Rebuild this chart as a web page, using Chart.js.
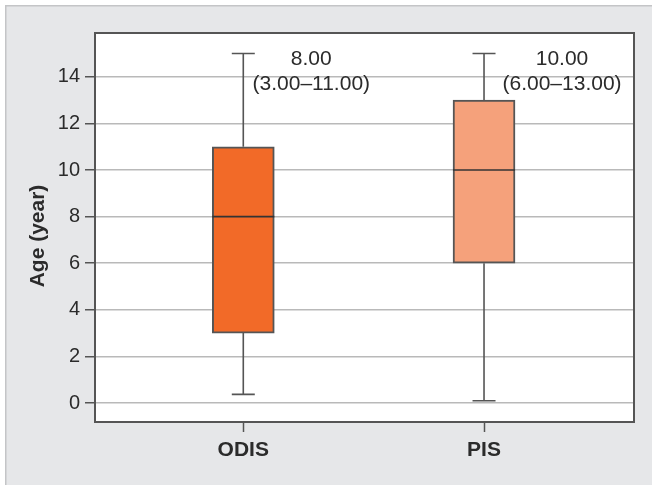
<!DOCTYPE html>
<html>
<head>
<meta charset="utf-8">
<title>Age by group</title>
<script src="https://cdn.jsdelivr.net/npm/chart.js@4.4.1/dist/chart.umd.min.js"></script>
<style>
  html, body { margin: 0; padding: 0; background: #ffffff; }
  #wrap { width: 652px; height: 485px; }
</style>
</head>
<body>
<div id="wrap"><canvas id="age-box" width="652" height="485"></canvas></div>
<script>
"use strict";
// values
const groupLabels = ["ODIS", "PIS"];
const whiskerLow = [0.37, 0.1];
const boxLow = [3, 6];
const medians = [8, 10];
const boxHigh = [11, 13];
const whiskerHigh = [15, 15];
const yTickValues = [0, 2, 4, 6, 8, 10, 12, 14];
const yTitle = "Age (year)";

const boxColors = ["#f26a28", "#f5a17b"];
const edgeColor = "#555555";
const textColor = "#2b2b2b";
const noteOffsets = [68, 78];

const panelPlugin = {
  id: "panel",
  beforeDraw(chart) {
    const ctx = chart.ctx;
    const area = chart.chartArea;
    ctx.save();
    ctx.fillStyle = "#ffffff";
    ctx.fillRect(0, 0, chart.width, chart.height);
    ctx.fillStyle = "#e6e7e9";
    ctx.fillRect(5, 5, chart.width - 5, chart.height - 5);
    ctx.strokeStyle = "#c4c5c7";
    ctx.lineWidth = 1.5;
    ctx.beginPath();
    ctx.moveTo(5.75, chart.height);
    ctx.lineTo(5.75, 5.75);
    ctx.lineTo(chart.width, 5.75);
    ctx.stroke();
    ctx.fillStyle = "#ffffff";
    ctx.fillRect(area.left, area.top, area.right - area.left, area.bottom - area.top);
    ctx.restore();
  },
  afterDraw(chart) {
    const ctx = chart.ctx;
    const area = chart.chartArea;
    ctx.save();
    ctx.strokeStyle = edgeColor;
    ctx.lineWidth = 2;
    ctx.strokeRect(area.left, area.top, area.right - area.left, area.bottom - area.top);
    // y axis title
    ctx.fillStyle = textColor;
    ctx.font = "bold 21px 'Liberation Sans', Arial, sans-serif";
    ctx.textAlign = "center";
    ctx.textBaseline = "middle";
    ctx.translate(38, 236);
    ctx.rotate(-Math.PI / 2);
    ctx.fillText(yTitle, 0, 0);
    ctx.restore();
  },
};

const boxPlugin = {
  id: "boxExtras",
  afterDatasetsDraw(chart) {
    const ctx = chart.ctx;
    const xScale = chart.scales.x;
    const yScale = chart.scales.y;
    const bars = chart.getDatasetMeta(0).data;
    ctx.save();
    groupLabels.forEach((label, i) => {
      const cx = xScale.getPixelForValue(i + 1);
      const capHalf = 11.5;
      const yMax = yScale.getPixelForValue(whiskerHigh[i]);
      const yMin = yScale.getPixelForValue(whiskerLow[i]);
      const yQ3 = yScale.getPixelForValue(boxHigh[i]);
      const yQ1 = yScale.getPixelForValue(boxLow[i]);
      const yMed = yScale.getPixelForValue(medians[i]);
      ctx.strokeStyle = edgeColor;
      ctx.lineWidth = 1.6;
      ctx.beginPath();
      ctx.moveTo(cx, yQ3);
      ctx.lineTo(cx, yMax);
      ctx.moveTo(cx - capHalf, yMax);
      ctx.lineTo(cx + capHalf, yMax);
      ctx.moveTo(cx, yQ1);
      ctx.lineTo(cx, yMin);
      ctx.moveTo(cx - capHalf, yMin);
      ctx.lineTo(cx + capHalf, yMin);
      ctx.stroke();
      // median
      const bar = bars[i];
      ctx.strokeStyle = "#333333";
      ctx.lineWidth = 1.6;
      ctx.beginPath();
      ctx.moveTo(bar.x - bar.width / 2, yMed);
      ctx.lineTo(bar.x + bar.width / 2, yMed);
      ctx.stroke();
      // median (IQR) note
      const nx = cx + noteOffsets[i];
      ctx.fillStyle = textColor;
      ctx.font = "21px 'Liberation Sans', Arial, sans-serif";
      ctx.textAlign = "center";
      ctx.textBaseline = "middle";
      ctx.fillText(medians[i].toFixed(2), nx, yMax + 6);
      ctx.fillText("(" + boxLow[i].toFixed(2) + "\u2013" + boxHigh[i].toFixed(2) + ")", nx, yMax + 31);
    });
    ctx.restore();
  },
};

const boxData = groupLabels.map((label, i) => ({ x: i + 1, y: [boxLow[i], boxHigh[i]] }));

new Chart(document.getElementById("age-box"), {
  type: "bar",
  data: {
    datasets: [
      {
        label: yTitle,
        data: boxData,
        backgroundColor: boxColors,
        borderColor: edgeColor,
        borderWidth: 2,
        borderSkipped: false,
        barThickness: 62,
      },
    ],
  },
  options: {
    responsive: false,
    animation: false,
    layout: { padding: { top: 33, right: 18, bottom: 0, left: 0 } },
    plugins: {
      legend: { display: false },
      tooltip: { enabled: false },
    },
    scales: {
      x: {
        type: "linear",
        min: 0.384,
        max: 2.623,
        offset: false,
        afterFit: (scale) => {
          scale.height = 63;
        },
        afterBuildTicks: (scale) => {
          scale.ticks = groupLabels.map((label, i) => ({ value: i + 1 }));
        },
        grid: {
          offset: false,
          drawOnChartArea: false,
          tickLength: 10,
          tickColor: edgeColor,
          tickWidth: 1.5,
        },
        border: { display: false },
        ticks: {
          autoSkip: false,
          maxRotation: 0,
          padding: 6,
          color: textColor,
          font: { family: "'Liberation Sans', Arial, sans-serif", size: 21, weight: "bold" },
          callback: (value) => groupLabels[value - 1],
        },
      },
      y: {
        min: -0.815,
        max: 15.88,
        afterFit: (scale) => {
          scale.width = 95;
        },
        afterBuildTicks: (scale) => {
          scale.ticks = yTickValues.map((v) => ({ value: v }));
        },
        grid: {
          color: "#b9b9b9",
          lineWidth: 1.5,
          tickLength: 10,
          tickColor: edgeColor,
          tickWidth: 1.5,
        },
        border: { display: false },
        ticks: {
          padding: 5,
          color: textColor,
          font: { family: "'Liberation Sans', Arial, sans-serif", size: 20 },
        },
      },
    },
  },
  plugins: [panelPlugin, boxPlugin],
});
</script>
</body>
</html>
